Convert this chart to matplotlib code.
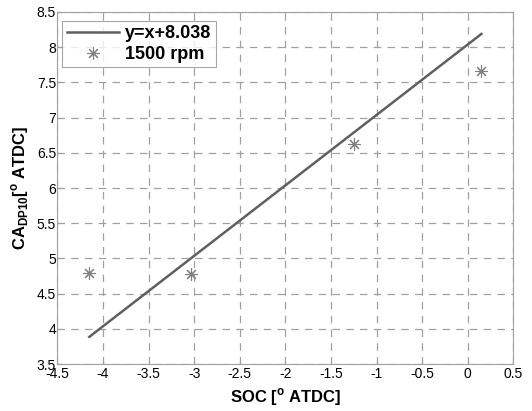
import matplotlib
matplotlib.use('Agg')
import matplotlib.pyplot as plt

plt.rcParams['font.family'] = ['Liberation Sans', 'DejaVu Sans']
plt.rcParams['mathtext.fontset'] = 'custom'
plt.rcParams['mathtext.rm'] = 'Liberation Sans'
plt.rcParams['mathtext.bf'] = 'Liberation Sans:bold'

# measured points (1500 rpm)
soc = [-4.15, -3.03, -1.25, 0.15]
ca_dp10 = [4.79, 4.78, 6.63, 7.66]

# fit line y = x + 8.038
fit_x = [-4.15, 0.15]
fit_offset = 8.038
fit_y = [x + fit_offset for x in fit_x]

fig = plt.figure(figsize=(5.32, 4.11), dpi=100)
ax = fig.add_axes([0.108, 0.114, 0.857, 0.857])

ax.plot(fit_x, fit_y, color='#606060', lw=1.8, label='y=x+8.038')
ax.plot(soc, ca_dp10, ls='none', marker=(8, 2, 0), ms=9, mew=0.8,
        color='#808080', label='1500 rpm')

ax.set_xlim(-4.5, 0.5)
ax.set_ylim(3.5, 8.5)
ax.set_xticks([-4.5, -4, -3.5, -3, -2.5, -2, -1.5, -1, -0.5, 0, 0.5])
ax.set_xticklabels(['-4.5', '-4', '-3.5', '-3', '-2.5', '-2', '-1.5', '-1', '-0.5', '0', '0.5'])
ax.set_yticks([3.5, 4, 4.5, 5, 5.5, 6, 6.5, 7, 7.5, 8, 8.5])
ax.set_yticklabels(['3.5', '4', '4.5', '5', '5.5', '6', '6.5', '7', '7.5', '8', '8.5'])
ax.grid(True, color='#a0a0a0', ls=(0, (6, 5)), lw=0.9)
ax.tick_params(labelsize=10, length=3, color='#a0a0a0', direction='in')
ax.tick_params(axis='x', pad=2)
ax.tick_params(axis='y', pad=1)
for s in ax.spines.values():
   s.set_color('#a0a0a0')

ax.set_xlabel(r'SOC [$^{\mathbf{o}}$ ATDC]', fontsize=12, fontweight='bold', labelpad=4)
ax.set_ylabel(r'CA$_{\mathbf{DP10}}$[$^{\mathbf{o}}$ ATDC]', fontsize=12, fontweight='bold', labelpad=4)

leg = ax.legend(loc='upper left', bbox_to_anchor=(0.011, 0.975), borderaxespad=0,
                prop={'size': 13, 'weight': 'bold'}, fancybox=False,
                handlelength=2.9, handletextpad=0.3, borderpad=0.25,
                labelspacing=0.2)
leg.get_frame().set_edgecolor('#909090')
leg.get_frame().set_linewidth(0.8)

fig.savefig('out.png', dpi=100)
